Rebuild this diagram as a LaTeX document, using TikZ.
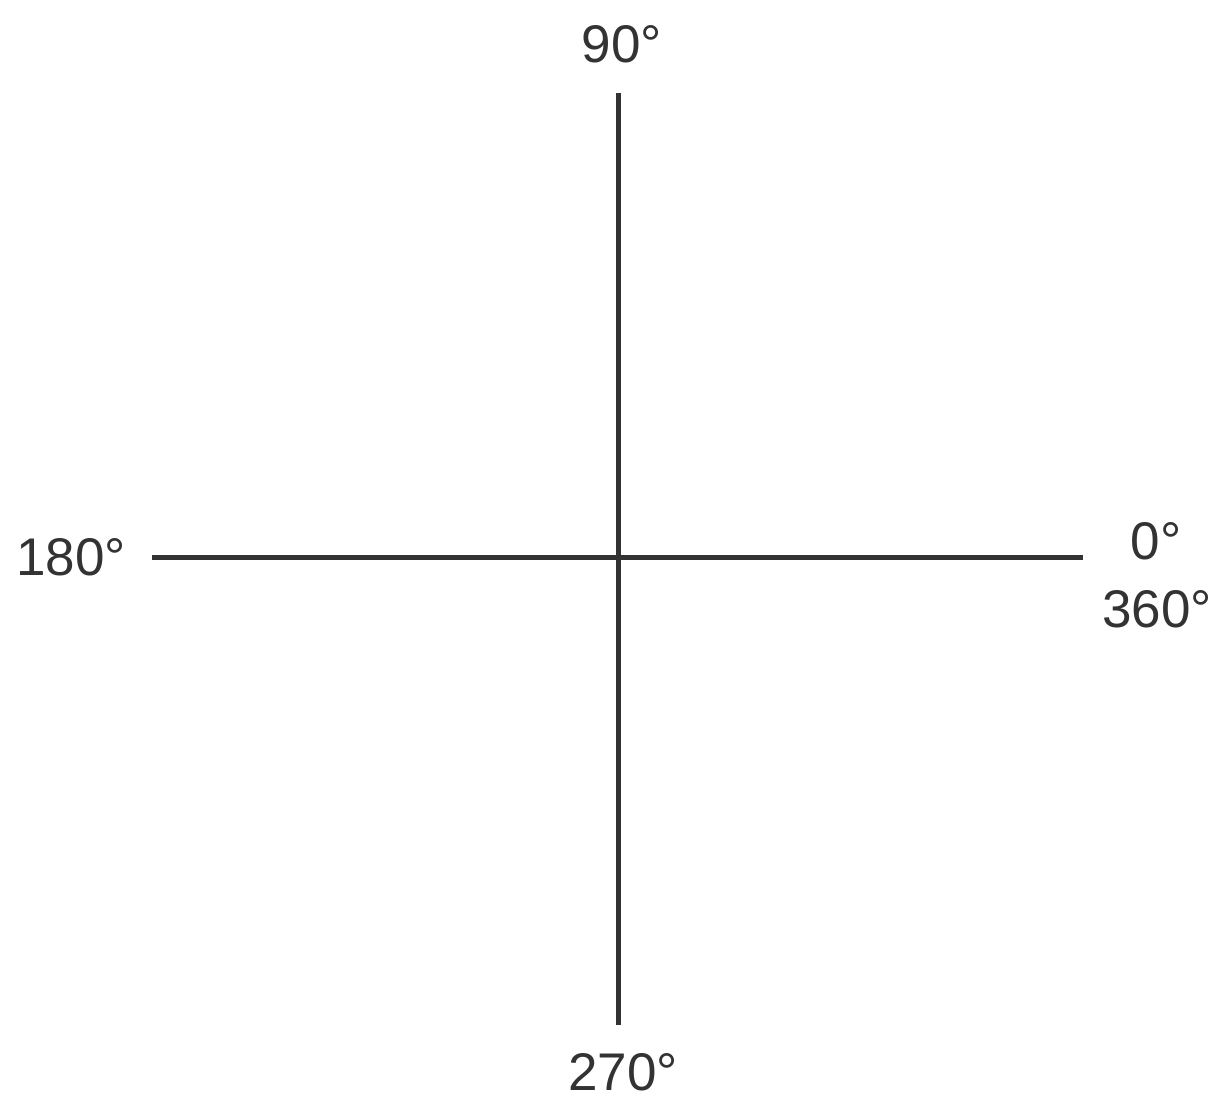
\documentclass[tikz,border=0pt]{standalone}
\usepackage{fontspec}
\setmainfont{Liberation Sans}
\begin{document}
\begin{tikzpicture}[x=1pt,y=-1pt,
  axis/.style={line width=5pt,draw=black!80},
  lbl/.style={anchor=base,inner sep=0pt,text=black!80,font=\fontsize{53}{60}\selectfont}]
\useasboundingbox (0,0) rectangle (1215,1096);
\coordinate (top) at (618,93);
\coordinate (bot) at (618,1025);
\coordinate (left) at (152,557);
\coordinate (right) at (1083,557);
\draw[axis] (top) -- (bot);
\draw[axis] (left) -- (right);
\node[lbl] (n90) at (622,62) {90°};
\node[lbl] (n180) at (71,575) {180°};
\node[lbl] (n0) at (1156,559) {0°};
\node[lbl] (n360) at (1157,627) {360°};
\node[lbl] (n270) at (623,1090) {270°};
\end{tikzpicture}
\end{document}
